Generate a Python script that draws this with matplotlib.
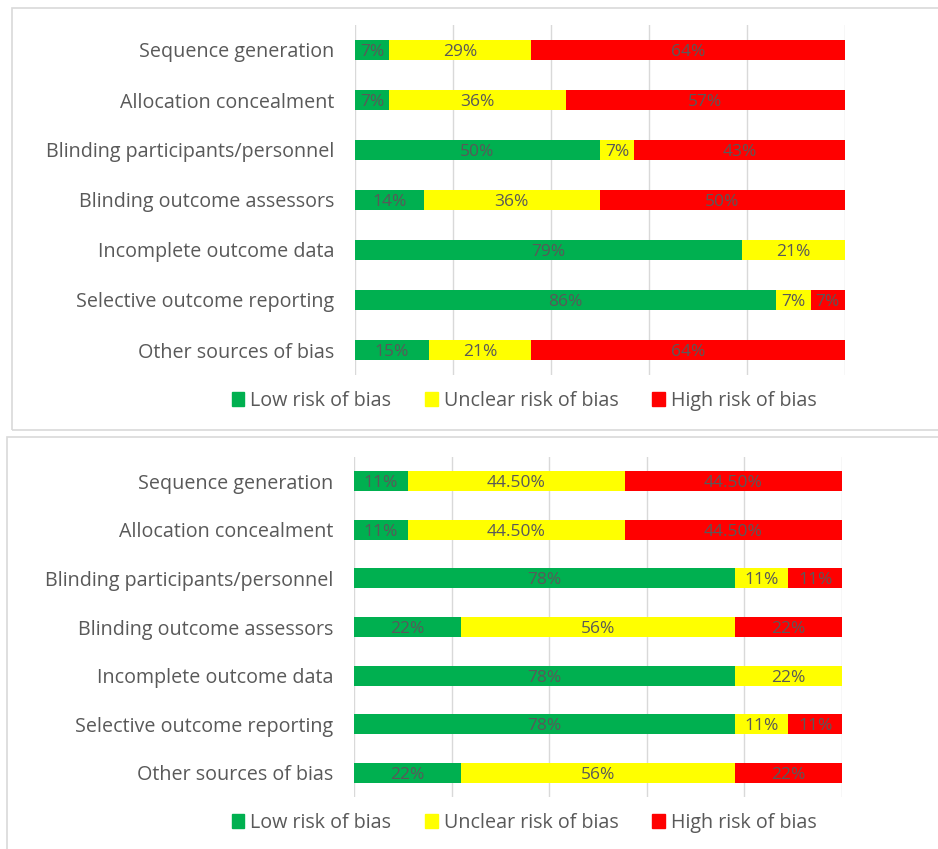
import matplotlib.pyplot as plt
from matplotlib.patches import Rectangle, Patch

plt.rcParams['font.family'] = ['Open Sans', 'DejaVu Sans']

categories = ['Sequence generation', 'Allocation concealment',
              'Blinding participants/personnel', 'Blinding outcome assessors',
              'Incomplete outcome data', 'Selective outcome reporting',
              'Other sources of bias']
series = ['Low risk of bias', 'Unclear risk of bias', 'High risk of bias']

# top chart
low1 = [7, 7, 50, 14, 79, 86, 15]
unclear1 = [29, 36, 7, 36, 21, 7, 21]
high1 = [64, 57, 43, 50, 0, 7, 64]

# bottom chart
low2 = [11, 11, 78, 22, 78, 78, 22]
unclear2 = [44.5, 44.5, 11, 56, 22, 11, 56]
high2 = [44.5, 44.5, 11, 22, 0, 11, 22]

colors = ['#00B050', '#FFFF00', '#FF0000']
txt = '#595959'
W, H = 938, 849

fig = plt.figure(figsize=(W / 100, H / 100), dpi=100)


def px(x0, y0, x1, y1):
    # pixel box -> figure fraction
    return [x0 / W, 1 - y1 / H, (x1 - x0) / W, (y1 - y0) / H]


def fmt(v):
    if v == int(v):
        return f'{int(v)}%'
    return f'{v:.2f}%'


def draw(box, data, legend_y):
    ax = fig.add_axes(px(*box))
    n = len(categories)
    ys = list(range(n))
    left = [0] * n
    for vals, c, name in zip(data, colors, series):
        ax.barh(ys, vals, left=left, height=0.41, color=c, label=name, zorder=2)
        for y, l, v in zip(ys, left, vals):
            if v > 0:
                ax.text(l + v / 2, y, fmt(v), ha='center', va='center_baseline',
                        fontsize=12.5, color=txt, zorder=3)
        left = [a + b for a, b in zip(left, vals)]
    ax.set_xlim(0, 100)
    ax.set_ylim(n - 0.5, -0.5)
    ax.set_xticks(range(0, 101, 20))
    ax.set_xticklabels([])
    ax.grid(axis='x', color='#D9D9D9', linewidth=1, zorder=0)
    ax.tick_params(length=0)
    ax.set_yticks(ys)
    ax.set_yticklabels(categories, fontsize=14.2, color=txt)
    ax.tick_params(axis='y', pad=15)
    for s in ax.spines.values():
        s.set_visible(False)
    handles = [Patch(color=c, label=s) for c, s in zip(colors, series)]
    fig.legend(handles=handles, loc='center', bbox_to_anchor=(524 / W, 1 - legend_y / H),
               ncol=3, frameon=False, fontsize=14.2, labelcolor=txt,
               handlelength=0.65, handleheight=0.65, handletextpad=0.3,
               columnspacing=1.7)


# panel borders
fig.patches.append(Rectangle((12 / W, 1 - 430 / H), 1, 422 / H, transform=fig.transFigure,
                             fill=False, edgecolor='#D9D9D9', linewidth=1.2))
fig.patches.append(Rectangle((7 / W, -0.1), 1, (0.1 + 1 - 437 / H), transform=fig.transFigure,
                             fill=False, edgecolor='#D9D9D9', linewidth=1.2))

draw((355, 25, 845, 375), [low1, unclear1, high1], 401)
draw((354, 457, 842, 797), [low2, unclear2, high2], 823)

fig.savefig('out.png', dpi=100)
